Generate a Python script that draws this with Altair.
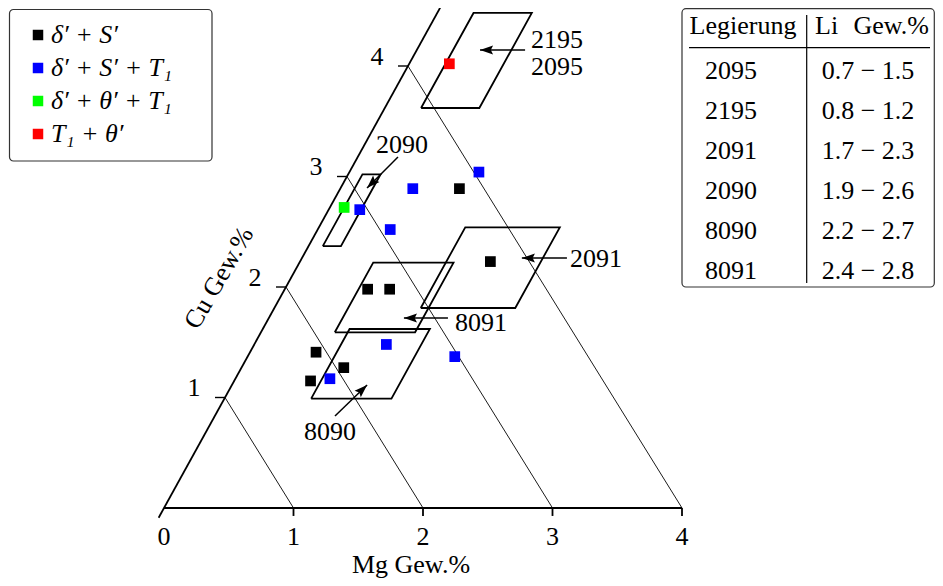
import math
import altair as alt
import pandas as pd

# ---- frame geometry (Cu axis is skewed, ternary-like) ----
K = 0.471          # x-shift of the Cu axis per Cu unit (in Mg units)
PX_X = 129.5       # px per Mg unit
PX_Y = 110.5       # px per Cu unit (vertical)
W, H = 927, 570
X0 = -156 / PX_X
X1 = X0 + W / PX_X
Y1 = 500 / PX_Y
Y0 = Y1 - H / PX_Y
FONT = "Liberation Serif"
FS = 26

# ---- data ----
phases = ["δ′ + S′", "δ′ + S′ + T₁", "δ′ + θ′ + T₁", "T₁ + θ′"]
phase_colors = ["#000000", "#0000ff", "#00ff00", "#ff0000"]

pt_mg = [0.92, 1.47, 0.64, 0.81, 0.51, 0.79, 0.59,
         1.00, 0.56, 0.24, 0.56, 1.02, 1.60, 0.73,
         0.11,
         0.31]
pt_cu = [2.89, 2.23, 1.98, 1.98, 1.41, 1.27, 1.15,
         3.04, 2.89, 2.70, 2.52, 1.48, 1.37, 1.17,
         2.72,
         4.02]
pt_phase = [phases[0]] * 7 + [phases[1]] * 7 + [phases[2]] + [phases[3]]

alloy_names = ["2095/2195", "2090", "2091", "8091", "8090"]
alloy_mg_lo = [0.28, 0.11, 1.13, 0.57, 0.67]
alloy_mg_hi = [0.73, 0.25, 1.86, 1.19, 1.29]
alloy_cu_lo = [3.62, 2.37, 1.81, 1.59, 0.99]
alloy_cu_hi = [4.48, 3.02, 2.54, 2.22, 1.62]

arrow_from_mg = [0.836, 0.311, 2.046, 1.383, 0.928]
arrow_from_cu = [4.145, 3.176, 2.262, 1.719, 0.833]
arrow_to_mg = [0.488, 0.204, 1.698, 1.043, 1.044]
arrow_to_cu = [4.145, 2.896, 2.262, 1.719, 1.113]

label_text = ["2195", "2095", "2090", "2091", "8091", "8090"]
label_mg = [1.036, 1.155, 0.286, 2.270, 1.655, 0.956]
label_cu = [4.244, 3.991, 3.294, 2.262, 1.683, 0.692]

iso_sums = [1, 2, 3, 4]
mg_ticks = [1, 2, 3, 4]
mg_tick_labels = ["0", "1", "2", "3", "4"]
cu_ticks = [1, 2, 3, 4]
cu_tick_labels = ["1", "2", "3", "4"]

tbl_header = ["Legierung", "Li", "Gew.%"]
tbl_alloy = ["2095", "2195", "2091", "2090", "8090", "8091"]
tbl_li = ["0.7 − 1.5", "0.8 − 1.2", "1.7 − 2.3", "1.9 − 2.6", "2.2 − 2.7", "2.4 − 2.8"]

# ---- helpers ----
xs = alt.Scale(domain=[X0, X1], nice=False, zero=False)
ys = alt.Scale(domain=[Y0, Y1], nice=False, zero=False)
CALC = f"datum.Mg + {K} * datum.Cu"


def ex(f="X"):
    return alt.X(f"{f}:Q", scale=xs, axis=None)


def ey(f="Cu"):
    return alt.Y(f"{f}:Q", scale=ys, axis=None)


# ---- frames ----
pts = pd.DataFrame({"Mg": pt_mg, "Cu": pt_cu, "phase": pt_phase})

poly_rows = []
for name, a, b, c, d in zip(alloy_names, alloy_mg_lo, alloy_mg_hi, alloy_cu_lo, alloy_cu_hi):
    for i, (m, cu) in enumerate([(a, c), (b, c), (b, d), (a, d), (a, c)]):
        poly_rows.append({"alloy": name, "v": i, "Mg": m, "Cu": cu})
poly = pd.DataFrame(poly_rows)

iso_rows = []
for s in iso_sums:
    iso_rows.append({"s": s, "v": 0, "Mg": 0, "Cu": s})
    iso_rows.append({"s": s, "v": 1, "Mg": s, "Cu": 0})
iso = pd.DataFrame(iso_rows)

axes_df = pd.DataFrame({
    "ax": ["Mg", "Mg", "Cu", "Cu"],
    "v": [0, 1, 0, 1],
    "Mg": [0, 4, 0, 0],
    "Cu": [0, 0, -0.088, 4.53],
})

mgt = pd.DataFrame({"Mg": mg_ticks, "y0": [0] * 4, "y1": [-0.072] * 4})
cut = pd.DataFrame({"Cu": cu_ticks})
cut["X"] = cut["Cu"] * K
cut["X2"] = cut["X"] - 10 / PX_X

arr_rows = []
head_rows = []
for i in range(len(arrow_from_mg)):
    arr_rows.append({"id": i, "v": 0, "Mg": arrow_from_mg[i], "Cu": arrow_from_cu[i]})
    arr_rows.append({"id": i, "v": 1, "Mg": arrow_to_mg[i], "Cu": arrow_to_cu[i]})
    dxp = ((arrow_to_mg[i] + K * arrow_to_cu[i]) - (arrow_from_mg[i] + K * arrow_from_cu[i])) * PX_X
    dyp = -(arrow_to_cu[i] - arrow_from_cu[i]) * PX_Y
    ang = math.degrees(math.atan2(dxp, -dyp)) % 360
    head_rows.append({"Mg": arrow_to_mg[i], "Cu": arrow_to_cu[i], "angle": ang})
arr = pd.DataFrame(arr_rows)
heads = pd.DataFrame(head_rows)

labels = pd.DataFrame({"Mg": label_mg, "Cu": label_cu, "t": label_text})
mgl = pd.DataFrame({"Mg": list(range(5)), "Cu": [0] * 5, "t": mg_tick_labels})
cul = pd.DataFrame({"Mg": [0] * 4, "Cu": cu_ticks, "t": cu_tick_labels})

tbl = pd.DataFrame({"alloy": tbl_alloy, "li": tbl_li, "row": list(range(len(tbl_alloy)))})
one = pd.DataFrame({"a": [0]})

# ---- layers ----
legend_box = alt.Chart(one).mark_rect(
    fill="white", stroke="#333", strokeWidth=1.2, cornerRadius=4).encode(
    x=alt.value(1.5), x2=alt.value(204), y=alt.value(1.5), y2=alt.value(153))

iso_layer = alt.Chart(iso).transform_calculate(X=CALC).mark_line(
    color="black", strokeWidth=0.9).encode(x=ex(), y=ey(), detail="s:N", order="v:Q")

poly_layer = alt.Chart(poly).transform_calculate(X=CALC).mark_line(
    color="black", strokeWidth=1.8, strokeJoin="miter").encode(
    x=ex(), y=ey(), detail="alloy:N", order="v:Q")

axes_layer = alt.Chart(axes_df).transform_calculate(X=CALC).mark_line(
    color="black", strokeWidth=1.8).encode(x=ex(), y=ey(), detail="ax:N", order="v:Q")

mgt_layer = alt.Chart(mgt).mark_rule(color="black", strokeWidth=1.8).encode(
    x=ex("Mg"), y=ey("y0"), y2=alt.Y2("y1:Q"))

cut_layer = alt.Chart(cut).mark_rule(color="black", strokeWidth=1.4).encode(
    x=ex("X"), x2=alt.X2("X2:Q"), y=ey("Cu"))

pts_layer = alt.Chart(pts).transform_calculate(X=CALC).mark_square(
    size=115, opacity=1, strokeWidth=0).encode(
    x=ex(), y=ey(),
    color=alt.Color("phase:N", scale=alt.Scale(domain=phases, range=phase_colors),
                    legend=alt.Legend(
                        title=None, orient="none", legendX=1, legendY=1,
                        direction="vertical", symbolType="square", symbolSize=110,
                        symbolStrokeWidth=0, symbolOffset=3, symbolOpacity=1,
                        labelFont=FONT, labelFontSize=26, labelFontStyle="italic",
                        labelColor="black", labelOffset=0, labelLimit=0,
                        rowPadding=7, padding=13)))

arr_layer = alt.Chart(arr).transform_calculate(X=CALC).mark_line(
    color="black", strokeWidth=1.5).encode(x=ex(), y=ey(), detail="id:N", order="v:Q")

HEAD = "M0,0 L-0.5,1.45 L0,1.2 L0.5,1.45 Z"
head_layer = alt.Chart(heads).transform_calculate(X=CALC).mark_point(
    shape=HEAD, size=324, filled=True, color="black", opacity=1, strokeWidth=0).encode(
    x=ex(), y=ey(), angle=alt.Angle("angle:Q", scale=None))

lab_layer = alt.Chart(labels).transform_calculate(X=CALC).mark_text(
    font=FONT, fontSize=FS, align="center", baseline="alphabetic", dy=8.5,
    color="black").encode(x=ex(), y=ey(), text="t:N")

mgl_layer = alt.Chart(mgl).transform_calculate(X=CALC).mark_text(
    font=FONT, fontSize=FS, align="center", baseline="alphabetic", dy=37,
    color="black").encode(x=ex(), y=ey(), text="t:N")

cul_layer = alt.Chart(cul).transform_calculate(X=CALC).mark_text(
    font=FONT, fontSize=FS, align="center", baseline="alphabetic", dx=-31, dy=-1.5,
    color="black").encode(x=ex(), y=ey(), text="t:N")

mg_title = alt.Chart(one).mark_text(
    font=FONT, fontSize=FS, align="center", baseline="alphabetic", color="black",
    text="Mg Gew.%").encode(x=alt.value(403), y=alt.value(565))

cu_title = alt.Chart(one).mark_text(
    font=FONT, fontSize=FS, align="center", baseline="middle", angle=300, color="black",
    text="Cu Gew.%").encode(x=alt.value(211), y=alt.value(270))

# table
tbl_box = alt.Chart(one).mark_rect(
    fill="white", stroke="#333", strokeWidth=1.2, cornerRadius=4).encode(
    x=alt.value(674), x2=alt.value(926.3), y=alt.value(0.7), y2=alt.value(279))

tbl_hrule = alt.Chart(one).mark_rule(color="black", strokeWidth=1.2).encode(
    x=alt.value(681), x2=alt.value(922), y=alt.value(39.7))
tbl_vrule = alt.Chart(one).mark_rule(color="black", strokeWidth=1.2).encode(
    x=alt.value(798.7), y=alt.value(7), y2=alt.value(275))

hdr_df = pd.DataFrame({"t": tbl_header, "px": [735, 807, 921], "al": ["c", "l", "r"]})
hdr_c = alt.Chart(hdr_df).transform_filter("datum.al == 'c'").mark_text(
    font=FONT, fontSize=FS, align="center", baseline="alphabetic", color="black").encode(
    x=alt.X("px:Q", scale=None), y=alt.value(26.3), text="t:N")
hdr_l = alt.Chart(hdr_df).transform_filter("datum.al == 'l'").mark_text(
    font=FONT, fontSize=FS, align="left", baseline="alphabetic", color="black").encode(
    x=alt.X("px:Q", scale=None), y=alt.value(26.3), text="t:N")
hdr_r = alt.Chart(hdr_df).transform_filter("datum.al == 'r'").mark_text(
    font=FONT, fontSize=FS, align="right", baseline="alphabetic", color="black").encode(
    x=alt.X("px:Q", scale=None), y=alt.value(26.3), text="t:N")

tbl_col1 = alt.Chart(tbl).transform_calculate(ty="71 + 40 * datum.row").mark_text(
    font=FONT, fontSize=FS, align="center", baseline="alphabetic", color="black").encode(
    x=alt.value(723), y=alt.Y("ty:Q", scale=None), text="alloy:N")
tbl_col2 = alt.Chart(tbl).transform_calculate(ty="71 + 40 * datum.row").mark_text(
    font=FONT, fontSize=FS, align="center", baseline="alphabetic", color="black").encode(
    x=alt.value(860), y=alt.Y("ty:Q", scale=None), text="li:N")

chart = alt.layer(
    legend_box,
    iso_layer, poly_layer, axes_layer, mgt_layer, cut_layer,
    pts_layer, arr_layer, head_layer, lab_layer, mgl_layer, cul_layer,
    mg_title, cu_title,
    tbl_box, tbl_hrule, tbl_vrule, hdr_c, hdr_l, hdr_r, tbl_col1, tbl_col2,
).properties(
    width=W, height=H, padding=0, autosize="none", background="white"
).configure_view(stroke=None)

chart.save("out.html", embed_options={"renderer": "svg", "actions": False})
